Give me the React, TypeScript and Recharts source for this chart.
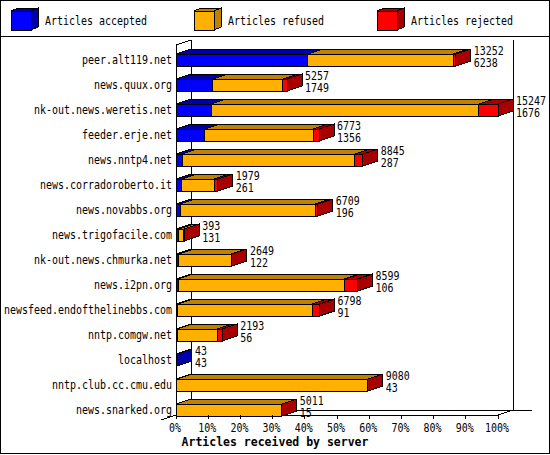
import React from 'react';
import { BarChart, Bar, XAxis, YAxis, Customized } from 'recharts';

const CATEGORIES = [
  'peer.alt119.net',
  'news.quux.org',
  'nk-out.news.weretis.net',
  'feeder.erje.net',
  'news.nntp4.net',
  'news.corradoroberto.it',
  'news.novabbs.org',
  'news.trigofacile.com',
  'nk-out.news.chmurka.net',
  'news.i2pn.org',
  'newsfeed.endofthelinebbs.com',
  'nntp.comgw.net',
  'localhost',
  'nntp.club.cc.cmu.edu',
  'news.snarked.org',
];
const TOTALS = [13252, 5257, 15247, 6773, 8845, 1979, 6709, 393, 2649, 8599, 6798, 2193, 43, 9080, 5011];
const ACCEPTED = [6238, 1749, 1676, 1356, 287, 261, 196, 131, 122, 106, 91, 56, 43, 43, 15];
const REFUSED = [6888, 3303, 12671, 5137, 8178, 1558, 6403, 242, 2490, 7873, 6367, 1887, 0, 9033, 4993];
const REJECTED = [126, 205, 900, 280, 380, 160, 110, 20, 37, 620, 340, 250, 0, 4, 3];
const X_TICKS = [0, 10, 20, 30, 40, 50, 60, 70, 80, 90, 100];

const SERIES = [
  { key: 'accepted', name: 'Articles accepted', color: '#0000FF', dark: '#0000A8' },
  { key: 'refused', name: 'Articles refused', color: '#FFB000', dark: '#C08000' },
  { key: 'rejected', name: 'Articles rejected', color: '#FF0000', dark: '#A80000' },
];

const MAX_TOTAL = Math.max(...TOTALS);
const data = CATEGORIES.map((name, i) => ({
  name,
  total: TOTALS[i],
  acceptedCount: ACCEPTED[i],
  accepted: (ACCEPTED[i] / MAX_TOTAL) * 100,
  refused: (REFUSED[i] / MAX_TOTAL) * 100,
  rejected: (REJECTED[i] / MAX_TOTAL) * 100,
}));

// layout
const W = 550;
const H = 455;
const PLOT_LEFT = 176;
const PLOT_RIGHT = 498;
const PLOT_TOP = 47;
const X_AXIS_H = 33;
const DX = 15;
const DY = 5;
const FLOOR_Y = 415;
const WALL_TOP = 40;
const FONT = '"DejaVu Sans Mono", "Liberation Mono", monospace';
const CHAR_W = 6;

function MonoText({ x, y, children, anchor = 'start' }: any) {
  const s = String(children);
  return (
    <text
      x={x}
      y={y}
      fontFamily={FONT}
      fontSize={11.5}
      fill="#000"
      textAnchor={anchor}
      textLength={s.length * CHAR_W}
      lengthAdjust="spacingAndGlyphs"
    >
      {s}
    </text>
  );
}

function Segment(props: any) {
  const { x, y, width, height, payload, seriesIndex } = props;
  if (!payload || width == null) return null;
  const val = payload[SERIES[seriesIndex].key];
  if (!(val > 0)) return null;
  let last = 0;
  SERIES.forEach((s, i) => {
    if (payload[s.key] > 0) last = i;
  });
  const s = SERIES[seriesIndex];
  const x2 = x + width;
  const y2 = y + height;
  const isLast = seriesIndex === last;
  return (
    <g shapeRendering="crispEdges">
      <polygon
        points={`${x},${y} ${x + DX},${y - DY} ${x2 + DX},${y - DY} ${x2},${y}`}
        fill={s.dark}
        stroke="#000"
        strokeWidth={1}
      />
      <rect x={x} y={y} width={Math.max(width, 0)} height={height} fill={s.color} stroke="#000" strokeWidth={1} />
      {isLast && (
        <polygon
          points={`${x2},${y} ${x2 + DX},${y - DY} ${x2 + DX},${y2 - DY} ${x2},${y2}`}
          fill={s.dark}
          stroke="#000"
          strokeWidth={1}
        />
      )}
      {isLast && (
        <g>
          <MonoText x={x2 + DX + 3} y={y + 1}>{payload.total}</MonoText>
          <MonoText x={x2 + DX + 3} y={y2 + 0.5}>{payload.acceptedCount}</MonoText>
        </g>
      )}
    </g>
  );
}

function XTick(props: any) {
  const { x, payload } = props;
  return (
    <g>
      <line x1={x} y1={FLOOR_Y} x2={x} y2={FLOOR_Y + 4} stroke="#000" shapeRendering="crispEdges" />
      <MonoText x={x - 1} y={FLOOR_Y + 17} anchor="middle">{`${payload.value}%`}</MonoText>
    </g>
  );
}

function YTick(props: any) {
  const { y, payload } = props;
  return <MonoText x={PLOT_LEFT - 4} y={y + 4.5} anchor="end">{payload.value}</MonoText>;
}

function Walls() {
  const L = { stroke: '#000', strokeWidth: 1, shapeRendering: 'crispEdges' as const };
  return (
    <g>
      <rect x={0.5} y={0.5} width={W - 1} height={453} fill="none" stroke="#000" />
      <line x1={0} y1={36} x2={W} y2={36} {...L} />
      {/* back walls */}
      <line x1={PLOT_LEFT + DX} y1={WALL_TOP} x2={PLOT_LEFT + DX} y2={FLOOR_Y - DY} {...L} />
      <line x1={PLOT_RIGHT + DX} y1={WALL_TOP} x2={PLOT_RIGHT + DX} y2={FLOOR_Y - DY} {...L} />
      <line x1={PLOT_LEFT} y1={WALL_TOP + DY} x2={PLOT_LEFT + DX} y2={WALL_TOP} {...L} />
      {/* floor */}
      <line x1={PLOT_LEFT + DX} y1={FLOOR_Y - DY} x2={PLOT_RIGHT + DX + 19} y2={FLOOR_Y - DY} {...L} />
      <line x1={PLOT_LEFT - DX} y1={FLOOR_Y + DY} x2={PLOT_LEFT + DX} y2={FLOOR_Y - DY} {...L} />
      <line x1={PLOT_RIGHT} y1={FLOOR_Y} x2={PLOT_RIGHT + DX} y2={FLOOR_Y - DY} {...L} />
      {/* front axes */}
      <line x1={PLOT_LEFT} y1={WALL_TOP + DY} x2={PLOT_LEFT} y2={FLOOR_Y} {...L} />
      <line x1={PLOT_LEFT} y1={FLOOR_Y} x2={PLOT_RIGHT} y2={FLOOR_Y} {...L} />
    </g>
  );
}

function LegendLayer() {
  return (
    <g>
      {SERIES.map((s, i) => {
        const lx = 11 + i * 183;
        const ly = 11;
        const w = 20;
        const h = 19;
        const dx = 7;
        const dy = 3;
        return (
          <g key={s.key} shapeRendering="crispEdges">
            <polygon points={`${lx},${ly} ${lx + dx},${ly - dy} ${lx + w + dx},${ly - dy} ${lx + w},${ly}`} fill={s.dark} stroke="#000" />
            <polygon points={`${lx + w},${ly} ${lx + w + dx},${ly - dy} ${lx + w + dx},${ly + h - dy} ${lx + w},${ly + h}`} fill={s.dark} stroke="#000" />
            <rect x={lx} y={ly} width={w} height={h} fill={s.color} stroke="#000" />
            <MonoText x={lx + 34} y={25}>{s.name}</MonoText>
          </g>
        );
      })}
      <text x={W / 2} y={446} textAnchor="middle" fontFamily={FONT} fontWeight="bold" fontSize={11.5} fill="#000">
        Articles received by server
      </text>
    </g>
  );
}

export default function App() {
  return (
    <div style={{ position: 'absolute', left: 0, top: 0, width: W, height: H, background: '#fff' }}>
      <BarChart
        width={W}
        height={H}
        data={data}
        layout="vertical"
        margin={{ top: PLOT_TOP, right: W - PLOT_RIGHT, left: 0, bottom: 0 }}
        barSize={12}
      >
        <Customized component={Walls} />
        <XAxis
          type="number"
          domain={[0, 100]}
          ticks={X_TICKS}
          interval={0}
          height={X_AXIS_H}
          axisLine={false}
          tickLine={false}
          tick={<XTick />}
        />
        <YAxis
          type="category"
          dataKey="name"
          width={PLOT_LEFT}
          interval={0}
          axisLine={false}
          tickLine={false}
          tick={<YTick />}
        />
        {SERIES.map((s, i) => (
          <Bar
            key={s.key}
            dataKey={s.key}
            stackId="a"
            fill={s.color}
            isAnimationActive={false}
            shape={(p: any) => <Segment {...p} seriesIndex={i} />}
          />
        ))}
        <Customized component={LegendLayer} />
      </BarChart>
    </div>
  );
}
